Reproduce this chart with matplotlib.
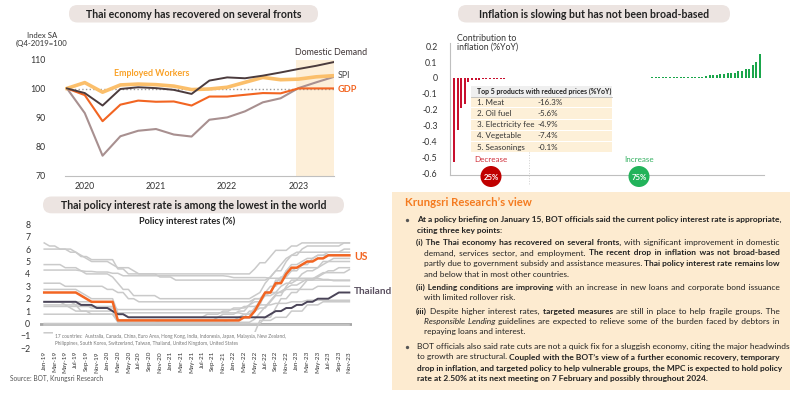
import numpy as np
import matplotlib.pyplot as plt
from matplotlib.patches import FancyBboxPatch, Rectangle, Circle

plt.rcParams['font.family'] = ['Lato', 'DejaVu Sans']

# ---- chart 1: index SA (Q4-2019=100), quarterly Q4-2019 .. Q3-2023
year_labels = ['2020', '2021', '2022', '2023']
year_pos = [1, 5, 9, 13]
domestic_demand = [100.2, 98.6, 94.3, 100.0, 100.6, 100.3, 99.7, 98.3, 102.9, 104.0, 103.7, 104.6, 105.7, 106.9, 108.0, 109.3]
employed_workers = [100.2, 102.2, 98.9, 101.4, 101.7, 101.5, 101.0, 99.8, 100.0, 100.6, 102.3, 104.0, 103.2, 103.4, 104.2, 104.6]
gdp = [100.2, 97.9, 88.9, 94.6, 96.0, 95.6, 95.7, 94.3, 97.4, 97.4, 98.0, 98.6, 98.5, 100.2, 100.2, 100.2]
spi = [100.2, 91.7, 77.0, 83.7, 85.6, 86.2, 84.3, 83.6, 89.4, 90.2, 92.3, 95.4, 96.8, 100.3, 102.3, 104.2]

# ---- chart 2: contribution to inflation (%YoY), sorted products
decrease = [-0.53, -0.33, -0.19, -0.165, -0.027, -0.015, -0.012, -0.01, -0.008, -0.007, -0.006,
            -0.005, -0.005, -0.004, -0.004, -0.003, -0.003, -0.003, -0.003, -0.002, -0.002, -0.002]
increase = [0.0002] * 26 + [
    0.002, 0.002, 0.0025, 0.0025, 0.003, 0.003, 0.003, 0.0035, 0.0035, 0.004, 0.004, 0.0045,
    0.0045, 0.005, 0.005, 0.0055, 0.0055, 0.006,
    0.006, 0.007, 0.008, 0.008, 0.01, 0.019, 0.021, 0.021, 0.027, 0.027, 0.031, 0.034, 0.034,
    0.046, 0.046, 0.059, 0.059, 0.082, 0.10, 0.153]
top5_items = ['1. Meat', '2. Oil fuel', '3. Electricity fee', '4. Vegetable', '5. Seasonings']
top5_values = ['-16.3%', '-5.6%', '-4.9%', '-7.4%', '-0.1%']

# ---- chart 3: policy interest rates (%), monthly Jan-19 .. Nov-23
us = [2.5] * 7 + [2.25, 2.0] + [1.75] * 5 + [0.25] * 24 + [
    0.5, 0.5, 1.0, 1.75, 2.5, 2.5, 3.25, 3.25, 4.0, 4.5, 4.5, 4.75, 5.0, 5.0, 5.25, 5.25, 5.5, 5.5, 5.5, 5.5, 5.5]
thailand = [1.75] * 7 + [1.5] * 3 + [1.25] * 3 + [1.0] + [0.75] * 2 + [0.5] * 27 + [
    0.75, 1.0, 1.0, 1.25, 1.25, 1.5, 1.5, 1.75, 1.75, 2.0, 2.0, 2.0, 2.25, 2.5, 2.5, 2.5]
others = {
    'Australia': [1.5] * 5 + [1.25] + [1.0] * 3 + [0.75] * 5 + [0.25] * 8 + [0.1] * 18 + [
        0.35, 0.85, 1.35, 1.85, 2.35, 2.6, 2.85, 3.1, 3.1, 3.35, 3.6, 3.6, 3.85, 4.1, 4.1, 4.1, 4.1, 4.1, 4.35],
    'Canada': [1.75] * 14 + [0.25] * 24 + [0.5, 1.0, 1.0, 1.5, 2.5, 2.5, 3.25, 3.75, 3.75, 4.25]
              + [4.5] * 5 + [4.75] + [5.0] * 5,
    'China': [4.31] * 7 + [4.25] + [4.2] * 2 + [4.15] * 3 + [4.05] * 2 + [3.85] * 20 + [3.8] + [3.7] * 7
             + [3.65] * 10 + [3.55] * 2 + [3.45] * 4,
    'Euro Area': [0.0] * 42 + [0.5, 0.5, 1.25, 2.0, 2.0, 2.5, 2.5, 3.0, 3.5, 3.5, 3.75, 4.0, 4.25, 4.25, 4.5, 4.5, 4.5],
    'Hong Kong': [2.75] * 7 + [2.5, 2.25] + [2.0] * 5 + [0.86] * 24 + [
        0.75, 0.75, 1.25, 1.75, 2.5, 2.5, 3.5, 3.5, 4.25, 4.75, 4.75, 5.0, 5.25, 5.25, 5.5, 5.5, 5.75, 5.75, 5.75, 5.75, 5.75],
    'India': [6.5] + [6.25] * 2 + [6.0] * 2 + [5.75] * 2 + [5.4] * 2 + [5.15] * 5 + [4.4] * 2 + [4.0] * 24
             + [4.4, 4.9, 4.9, 5.4, 5.9, 5.9, 5.9, 6.25, 6.25] + [6.5] * 10,
    'Indonesia': [6.0] * 6 + [5.75, 5.5, 5.25] + [5.0] * 4 + [4.75] + [4.5] * 3 + [4.25] + [4.0] * 4 + [3.75] * 3
                 + [3.5] * 18 + [3.75, 4.25, 4.75, 5.25, 5.5] + [5.75] * 9 + [6.0] * 2,
    'Japan': [-0.1] * 59,
    'Malaysia': [3.25] * 4 + [3.0] * 8 + [2.75] * 2 + [2.5] * 2 + [2.0] * 2 + [1.75] * 22 + [2.0] * 2 + [2.25] * 2
                + [2.5] * 2 + [2.75] * 6 + [3.0] * 7,
    'New Zealand': [1.75] * 4 + [1.5] * 3 + [1.0] * 7 + [0.25] * 19 + [0.5, 0.75, 0.75]
                   + [0.75, 1.0, 1.0, 1.5, 2.0, 2.0, 2.5, 3.0, 3.0, 3.5, 4.25, 4.25]
                   + [4.25, 4.75, 4.75, 5.25] + [5.5] * 7,
    'Philippines': [4.75] * 4 + [4.5] * 3 + [4.25] + [4.0] * 5 + [3.75, 3.25] + [2.75] * 2 + [2.25] * 5 + [2.0] * 18
                   + [2.25, 2.5, 3.25, 3.75, 4.25, 4.25, 5.0, 5.5, 5.5, 6.0] + [6.25] * 7 + [6.5] * 2,
    'South Korea': [1.75] * 6 + [1.5] * 3 + [1.25] * 5 + [0.75] * 2 + [0.5] * 15 + [0.75] * 3 + [1.0] * 2
                   + [1.25] * 3 + [1.5] + [1.75] * 2 + [2.25] + [2.5] * 2 + [3.0] + [3.25] * 2 + [3.5] * 11,
    'Switzerland': [-0.75] * 41 + [0.25] * 3 + [0.5] * 3 + [1.0] * 3 + [1.5] * 3 + [1.75] * 6,
    'Taiwan': [1.375] * 14 + [1.125] * 24 + [1.375] * 3 + [1.5] * 3 + [1.625] * 3 + [1.75] * 3 + [1.875] * 9,
    'United Kingdom': [0.75] * 14 + [0.1] * 21 + [0.25] * 2 + [0.5] + [0.75] * 2 + [1.0] + [1.25] * 2 + [1.75]
                      + [2.25] * 2 + [3.0] + [3.5] * 2 + [4.0] + [4.25] * 2 + [4.5] + [5.0] * 2 + [5.25] * 4,
}
month_names = ['Jan', 'Mar', 'May', 'Jul', 'Sep', 'Nov']
years = ['19', '20', '21', '22', '23']

# (x start, y, justified, segments)
view_lines = [
    (417, 220.0, True, [("At a policy briefing on January 15, BOT officials said the current policy interest rate is appropriate,", "b")]),
    (417, 230.5, False, [("citing three key points:", "b")]),
    (416, 242.7, True, [("(i) The Thai economy has recovered on several fronts,", "b"), ("with significant improvement in domestic", "")]),
    (424, 253.3, True, [("demand, services sector, and employment.", ""), ("The recent drop in inflation was not broad-based", "b")]),
    (424, 264.0, True, [("partly due to government subsidy and assistance measures.", ""), ("Thai policy interest rate remains low", "b")]),
    (424, 275.0, False, [("and below that in most other countries.", "")]),
    (416, 287.7, True, [("(ii) Lending conditions are improving", "b"), ("with an increase in new loans and corporate bond issuance", "")]),
    (424, 298.3, False, [("with limited rollover risk.", "")]),
    (416, 311.7, True, [("(iii)", "b"), ("Despite higher interest rates,", ""), ("targeted measures", "b"),
                        ("are still in place to help fragile groups. The", "")]),
    (424, 321.7, True, [("Responsible Lending", "i"), ("guidelines are expected to relieve some of the burden faced by debtors in", "")]),
    (424, 331.7, False, [("repaying loans and interest.", "")]),
    (417, 346.7, True, [("BOT officials also said rate cuts are not a quick fix for a sluggish economy, citing the major headwinds", "")]),
    (417, 357.3, True, [("to growth are structural.", ""), ("Coupled with the BOT\u2019s view of a further economic recovery, temporary", "b")]),
    (417, 368.3, True, [("drop in inflation, and targeted policy to help vulnerable groups, the MPC is expected to hold policy", "b")]),
    (417, 379.3, False, [("rate at 2.50% at its next meeting on 7 February and possibly throughout 2024.", "b")]),
]

W, H = 800, 399
fig = plt.figure(figsize=(8, 3.99), dpi=100)


def px_axes(x0, y0, x1, y1, **kw):
    return fig.add_axes([x0 / W, 1 - y1 / H, (x1 - x0) / W, (y1 - y0) / H], **kw)


# background layer (pills, panel)
bg = fig.add_axes([0, 0, 1, 1], zorder=0)
bg.set_xlim(0, W)
bg.set_ylim(H, 0)
bg.axis('off')

pill_col = '#ece4e1'
for (x0, x1, y0, y1, txt) in [(69, 318, 5, 22.5, 'Thai economy has recovered on several fronts'),
                              (458, 730, 5, 22.5, 'Inflation is slowing but has not been broad-based'),
                              (43, 344, 196.5, 213.3, 'Thai policy interest rate is among the lowest in the world')]:
    bg.add_patch(FancyBboxPatch((x0, y0), x1 - x0, y1 - y0, boxstyle='round,pad=0,rounding_size=8.5',
                                fc=pill_col, ec='none'))
    bg.text((x0 + x1) / 2, (y0 + y1) / 2 + 0.5, txt, ha='center', va='center', fontsize=7.6,
            fontweight='bold', color='#222222')

bg.add_patch(Rectangle((392, 191.5), 398, 198.5, fc='#fdebd0', ec='none'))
bg.text(405, 203, 'Krungsri Research\u2019s view', fontsize=8.2, fontweight='bold', color='#f47b20',
        ha='left', va='center')

# ---------------- chart 1
ax1 = px_axes(65, 60, 334, 176, zorder=1)
ax1.patch.set_alpha(0)
q = np.arange(len(gdp))
ax1.axvspan(12.85, 15.0, color='#fdefd9', lw=0, zorder=0)
ax1.plot(q, [100] * len(q), ls=':', color='#9a9a9a', lw=1, zorder=1)
ax1.plot(q, spi, color='#a89090', lw=1.5, zorder=2)
ax1.plot(q, gdp, color='#f26522', lw=1.5, zorder=3)
ax1.plot(q, employed_workers, color='#fbbf6b', lw=2.6, zorder=4)
ax1.plot(q, domestic_demand, color='#4b3b3d', lw=1.4, zorder=5)
ax1.set_xlim(-0.11, 15.0)
ax1.set_ylim(70, 110)
ax1.set_yticks([70, 80, 90, 100, 110])
ax1.set_xticks(year_pos)
ax1.set_xticklabels(year_labels)
for s in ['top', 'right', 'left']:
    ax1.spines[s].set_visible(False)
ax1.spines['bottom'].set_color('#bfbfbf')
ax1.tick_params(length=0, labelsize=6.3, colors='#333333')
ax1.tick_params(axis='y', pad=14)
ax1.tick_params(axis='x', pad=4)

bg.text(42, 35, 'Index SA', fontsize=5.6, ha='center', va='center', color='#333333')
bg.text(42, 43.5, '(Q4-2019=100', fontsize=5.6, ha='center', va='center', color='#333333')
bg.text(331, 52.7, 'Domestic Demand', fontsize=6.4, ha='center', va='center', color='#3f3536')
bg.text(152, 73.3, 'Employed Workers', fontsize=6.4, fontweight='bold', ha='center', va='center', color='#f9a229')
bg.text(338, 76, 'SPI', fontsize=6.4, ha='left', va='center', color='#444444')
bg.text(338, 89.3, 'GDP', fontsize=6.6, fontweight='bold', ha='left', va='center', color='#f26522')

# ---------------- chart 2
ax2 = px_axes(450, 43, 764, 175, zorder=1)
ax2.patch.set_alpha(0)
vals = decrease + increase
idx = np.arange(len(vals))
cols = ['#c8102e'] * len(decrease) + ['#1aa64b'] * len(increase)
ax2.bar(idx, vals, width=0.55, color=cols, lw=0)
ax2.set_xlim(-1.1, 86.1)
ax2.set_ylim(-0.61, 0.22)
yt = [-0.6, -0.5, -0.4, -0.3, -0.2, -0.1, 0, 0.1, 0.2]
ax2.set_yticks(yt)
ax2.set_yticklabels(['-0.6', '-0.5', '-0.4', '-0.3', '-0.2', '-0.1', '0', '0.1', '0.2'])
ax2.set_xticks([])
for s in ['top', 'right']:
    ax2.spines[s].set_visible(False)
ax2.spines['left'].set_color('#bfbfbf')
ax2.spines['bottom'].set_color('#bfbfbf')
ax2.tick_params(length=0, labelsize=6.3, colors='#333333', pad=9)
bg.text(457, 38.3, 'Contribution to', fontsize=6.3, ha='left', va='center', color='#333333')
bg.text(457, 47.4, 'inflation (%YoY)', fontsize=6.3, ha='left', va='center', color='#333333')

# ---------------- chart 3
ax3 = px_axes(40, 224.3, 352, 348.3, zorder=1)
ax3.patch.set_alpha(0)
m = np.arange(len(us))
ax3.axhline(0, color='#a6a6a6', lw=2.0, zorder=1)
for name, series in others.items():
    ax3.plot(m, series, color='#cacaca', lw=1.1, zorder=2)
ax3.plot(m, thailand, color='#4a4458', lw=1.4, zorder=4)
ax3.plot(m, us, color='#f26522', lw=1.8, zorder=5)
ax3.set_xlim(-0.8, 58.5)
ax3.set_ylim(-2, 8)
ax3.set_yticks(range(-2, 9))
ax3.set_xticks(range(0, 59, 2))
ax3.set_xticklabels([mn + '-' + yr for yr in years for mn in month_names], rotation=90)
for s in ax3.spines.values():
    s.set_visible(False)
ax3.tick_params(length=0, colors='#333333')
ax3.tick_params(axis='y', labelsize=6.3, pad=7)
ax3.tick_params(axis='x', labelsize=4.6, pad=2)
ax3.text(2, -1.35, '17 countries:  Australia, Canada, China, Euro Area, Hong Kong, India, Indonesia, Japan, '
         'Malaysia, New Zealand,\nPhilippines, South Korea, Switzerland, Taiwan, Thailand, United Kingdom, United States',
         fontsize=3.4, color='#777777', ha='left', va='center', linespacing=1.5, zorder=8,
         bbox=dict(fc='white', ec='none', pad=1.5))
bg.text(187, 221.7, 'Policy interest rates (%)', fontsize=6.6, fontweight='bold', ha='center', va='center',
        color='#222222')
bg.text(354, 256, 'US', fontsize=7.6, fontweight='bold', ha='left', va='center', color='#f26522')
bg.text(354, 291, 'Thailand', fontsize=7.2, fontweight='bold', ha='left', va='center', color='#5a5060')
bg.text(10, 378.3, 'Source: BOT, Krungsri Research', fontsize=4.8, ha='left', va='center', color='#555555')

# ---------------- overlay: table, circles, panel text
ov = fig.add_axes([0, 0, 1, 1], zorder=5)
ov.set_xlim(0, W)
ov.set_ylim(H, 0)
ov.axis('off')

tbl_size = 5.8
ov.add_patch(Rectangle((471, 86), 141, 10.7, fc='#efefef', ec='none'))
ov.text(477, 91.5, 'Top 5 products with reduced prices (%YoY)', fontsize=5.0, fontweight='bold',
        ha='left', va='center', color='#222222')
row_h = 11.2
for i, (item, val) in enumerate(zip(top5_items, top5_values)):
    y0 = 96.7 + i * row_h
    ov.add_patch(Rectangle((471, y0 + 0.5), 141, row_h - 1.0, fc='#fdf0d8', ec='none'))
    ov.text(477, y0 + row_h / 2, item, fontsize=tbl_size, ha='left', va='center', color='#333333')
    ov.text(538, y0 + row_h / 2, val, fontsize=tbl_size, ha='left', va='center', color='#333333')
ov.plot([471, 612], [96.7, 96.7], color='#bbbbbb', lw=0.6)

ov.plot([529, 529], [152, 184], color='#cfcfcf', lw=0.7, ls=':')
ov.text(491, 159.5, 'Decrease', fontsize=5.8, ha='center', va='center', color='#d0303a')
ov.text(639, 159.5, 'Increase', fontsize=5.8, ha='center', va='center', color='#33b060')
ov.add_patch(Circle((491, 176.5), 10.5, fc='#c00000', ec='none'))
ov.add_patch(Circle((639, 176.5), 10.5, fc='#22b35a', ec='none'))
ov.text(491, 177, '25%', fontsize=5.6, fontweight='bold', ha='center', va='center', color='white')
ov.text(639, 177, '75%', fontsize=5.6, fontweight='bold', ha='center', va='center', color='white')

# body text: one text per style run, justified with hair spaces
body_size = 6.0
right_edge = 780
HAIR = '\u200a'
renderer = fig.canvas.get_renderer()


def run_text(x, y, txt, st):
    return ov.text(x, y, txt, fontsize=body_size, color='#222222', va='baseline', ha='left',
                   fontweight='bold' if 'b' in st else 'normal',
                   fontstyle='italic' if 'i' in st else 'normal')


def width_of(t):
    return t.get_window_extent(renderer).width


probe = run_text(0, 0, 'xx', '')
w_xx = width_of(probe)
probe.set_text('x x')
space_px = width_of(probe) - w_xx
probe.set_text('x' + HAIR * 20 + 'x')
hair_px = max((width_of(probe) - w_xx) / 20, 0.3)
probe.remove()

for yb in [220.0, 346.7]:
    ov.plot([407], [yb], marker='o', ms=2.4, color='#555555', mec='none')
for x0, y0, just, segs in view_lines:
    base = y0 + 2.2
    arts = [run_text(x0, base, txt, st) for txt, st in segs]
    natural = sum(width_of(t) for t in arts) + space_px * (len(arts) - 1)
    n_gaps = sum(txt.count(' ') for txt, st in segs) + len(segs) - 1
    extra = 0.0
    if just and n_gaps > 0:
        extra = max(0.0, (right_edge - x0 - natural) / n_gaps)
    gap_i = 0
    used = 0

    def hairs():
        global gap_i, used
        gap_i += 1
        k = int(round(extra * gap_i / hair_px)) - used
        used += k
        return k

    x = x0
    for j, (t, (txt, st)) in enumerate(zip(arts, segs)):
        words = txt.split(' ')
        new = words[0]
        for wd in words[1:]:
            new += ' ' + HAIR * hairs() + wd
        t.set_text(new)
        t.set_x(x)
        x += width_of(t)
        if j < len(arts) - 1:
            x += space_px + hairs() * hair_px

fig.savefig('out.png', dpi=100)
